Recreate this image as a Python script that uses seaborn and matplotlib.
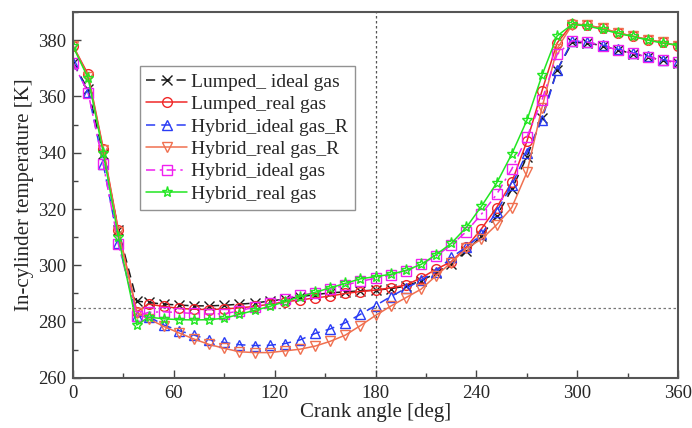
import numpy as np
import pandas as pd
import matplotlib
matplotlib.use("Agg")
import matplotlib.pyplot as plt
from matplotlib.ticker import MultipleLocator
import seaborn as sns

# ---- data ----
crank_angle = [0, 9, 18, 27, 38, 45, 54, 63, 72, 81, 90, 99, 108, 117, 126, 135, 144, 153,
               162, 171, 180, 189, 198, 207, 216, 225, 234, 243, 252, 261, 270, 279, 288,
               297, 306, 315, 324, 333, 342, 351, 360]

lumped_ideal = [371.8, 362.5, 339.5, 312.5, 287.3, 286.8, 286.2, 285.9, 285.6, 285.6, 285.8,
                286.2, 286.6, 287.3, 288.0, 288.8, 289.6, 290.2, 290.6, 290.9, 291.2, 291.7,
                292.6, 294.5, 297.2, 300.6, 305.0, 310.5, 317.5, 327.0, 338.5, 352.5, 369.4,
                379.2, 379.0, 378.0, 376.5, 375.2, 374.0, 372.8, 372.0]

lumped_real = [378.0, 367.8, 341.5, 312.5, 283.5, 286.2, 285.4, 284.7, 284.4, 284.3, 284.5,
               284.9, 285.4, 286.2, 287.0, 287.7, 288.4, 289.1, 290.0, 290.7, 291.2, 292.0,
               293.0, 295.5, 298.6, 301.3, 306.5, 313.0, 320.5, 329.5, 344.0, 362.0, 379.0,
               385.8, 385.3, 384.2, 382.6, 381.4, 380.2, 379.2, 378.0]

hybrid_ideal_R = [372.0, 361.5, 336.0, 308.0, 282.0, 281.8, 278.8, 276.8, 275.2, 273.6, 272.6,
                  271.8, 271.5, 271.6, 272.2, 273.5, 275.8, 277.4, 279.6, 282.6, 285.7, 288.9,
                  291.8, 294.7, 297.8, 302.8, 306.5, 311.0, 319.1, 328.5, 340.0, 351.7, 369.3,
                  379.8, 379.3, 378.2, 376.8, 375.5, 374.3, 373.0, 372.3]

hybrid_real_R = [378.0, 367.0, 341.0, 312.0, 283.0, 281.0, 278.3, 276.0, 273.8, 271.9, 270.5,
                 269.3, 269.0, 269.0, 269.6, 270.2, 271.3, 273.0, 275.2, 278.6, 282.2, 285.5,
                 288.5, 291.5, 296.3, 301.0, 306.0, 309.3, 314.4, 320.5, 333.0, 356.0, 377.0,
                 385.5, 385.3, 384.2, 382.6, 381.4, 380.2, 379.2, 378.0]

hybrid_ideal = [372.0, 361.3, 336.0, 307.5, 282.0, 283.3, 283.5, 283.2, 282.9, 282.7, 282.8,
                283.8, 285.2, 286.5, 288.2, 289.5, 290.1, 291.5, 293.0, 294.3, 295.4, 296.5,
                298.0, 300.3, 303.3, 307.2, 312.0, 318.2, 325.2, 334.2, 345.5, 358.8, 375.0,
                379.8, 379.3, 378.0, 376.5, 375.3, 374.0, 372.9, 372.2]

hybrid_real = [377.8, 366.5, 340.0, 310.0, 278.8, 281.6, 281.0, 280.7, 280.6, 280.7, 281.2,
               282.6, 284.0, 285.4, 287.1, 288.8, 290.4, 292.0, 293.6, 295.2, 296.0, 296.8,
               298.2, 300.3, 303.8, 307.8, 313.5, 321.0, 329.2, 339.5, 351.5, 367.5, 381.5,
               385.6, 385.0, 383.8, 382.4, 381.3, 380.0, 378.9, 378.2]

series_names = ["Lumped_ ideal gas", "Lumped_real gas", "Hybrid_ideal gas_R",
                "Hybrid_real gas_R", "Hybrid_ideal gas", "Hybrid_real gas"]
series_values = [lumped_ideal, lumped_real, hybrid_ideal_R, hybrid_real_R, hybrid_ideal, hybrid_real]

ref_angle = 180
ref_temp = 285

# ---- styles ----
colors = ["#1a1a1a", "#f02828", "#2a3cf5", "#f07050", "#f020f0", "#22e622"]
markers = ["x", "o", "^", "v", "s", "*"]
linestyles = [(0, (6, 4)), "-", (0, (6, 4)), "-", (0, (6, 3, 1.5, 3)), "-"]
msizes = [7, 7, 7.5, 7.5, 6.5, 8]

sns.set_style("ticks")
plt.rcParams["font.family"] = ["Liberation Serif", "DejaVu Serif"]
plt.rcParams["mathtext.fontset"] = "stix"

fig = plt.figure(figsize=(6.92, 4.28), dpi=100)
ax = fig.add_axes([0.1055, 0.117, 0.98 - 0.1055, 0.972 - 0.117])

df = pd.DataFrame({"angle": crank_angle})
for name, vals in zip(series_names, series_values):
    df[name] = vals

for name, c, m, ls, ms in zip(series_names, colors, markers, linestyles, msizes):
    sns.lineplot(data=df, x="angle", y=name, ax=ax, color=c, marker=m, linestyle=ls,
                 markersize=ms, markerfacecolor="none", markeredgecolor=c,
                 markeredgewidth=1.0, linewidth=1.1, label=name)

ax.axvline(ref_angle, color="#555555", linestyle=(0, (2, 2)), linewidth=0.9, zorder=0)
ax.axhline(ref_temp, color="#777777", linestyle=(0, (2, 2)), linewidth=0.9, zorder=0)

ax.set_xlim(0, 360)
ax.set_ylim(260, 390)
ax.xaxis.set_major_locator(MultipleLocator(60))
ax.xaxis.set_minor_locator(MultipleLocator(30))
ax.yaxis.set_major_locator(MultipleLocator(20))
ax.yaxis.set_minor_locator(MultipleLocator(10))
ax.tick_params(which="both", direction="in", top=False, right=False, color="#444444",
               labelsize=13.5, width=1.0)
ax.tick_params(which="major", length=6, pad=5)
ax.tick_params(which="minor", length=3.5)
for s in ax.spines.values():
    s.set_color("#555555")
    s.set_linewidth(1.5)

ax.set_xlabel("Crank angle [deg]", fontsize=15, labelpad=1)
ax.set_ylabel("In-cylinder temperature [K]", fontsize=15, labelpad=3)

leg = ax.legend(loc="upper left", bbox_to_anchor=(0.11, 0.852), fontsize=14,
                frameon=True, fancybox=False, shadow=False, edgecolor="#777777",
                handlelength=2.1, handletextpad=0.2, labelspacing=0.25,
                borderpad=0.35, borderaxespad=0.0)
leg.get_frame().set_linewidth(1.0)

fig.savefig("out.png", dpi=100)
